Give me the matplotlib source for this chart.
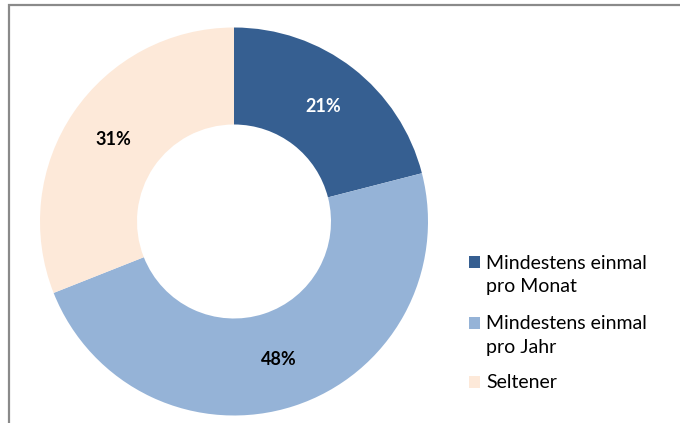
import matplotlib
matplotlib.use("Agg")
import matplotlib.pyplot as plt
from matplotlib.patches import Rectangle

categories = ["Mindestens einmal\npro Monat", "Mindestens einmal\npro Jahr", "Seltener"]
values = [21, 48, 31]
colors = ["#365F91", "#95B3D7", "#FDE9D9"]
label_colors = ["white", "black", "black"]

W, H = 680, 423
fig = plt.figure(figsize=(W / 100, H / 100), dpi=100)
plt.rcParams['font.family'] = ['Lato', 'DejaVu Sans']

# frame border (top and left visible)
fig.patches.append(Rectangle((9 / W, -0.1), 1.2, (H - 5) / H + 0.1, transform=fig.transFigure,
                             fill=False, edgecolor="#8a8a8a", linewidth=1.6))

cx, cy, R = 234, 221.5, 194
ax = fig.add_axes([(cx - R) / W, (H - cy - R) / H, 2 * R / W, 2 * R / H])
wedges, texts, autotexts = ax.pie(values, colors=colors, startangle=90, counterclock=False,
                                  radius=1, wedgeprops=dict(width=0.5, linewidth=0),
                                  autopct=lambda p: f"{p:.0f}%", pctdistance=0.75)
for t, c in zip(autotexts, label_colors):
    t.set_color(c)
    t.set_fontweight("bold")
    t.set_fontsize(13)
ax.set_xlim(-1, 1)
ax.set_ylim(-1, 1)
ax.set_aspect("equal")
ax.axis("off")

# legend
centers = [275, 335.5, 382]
for lab, col, yc in zip(categories, colors, centers):
    n = lab.count("\n") + 1
    top = yc - (n - 1) * 13
    fig.patches.append(Rectangle((469 / W, 1 - (top + 6) / H), 11 / W, 12 / H,
                                 transform=fig.transFigure, facecolor=col, edgecolor="none"))
    fig.text(486 / W, 1 - yc / H, lab, ha="left", va="center", fontsize=14,
             linespacing=1.48, color="black")

fig.savefig("out.png", dpi=100)
